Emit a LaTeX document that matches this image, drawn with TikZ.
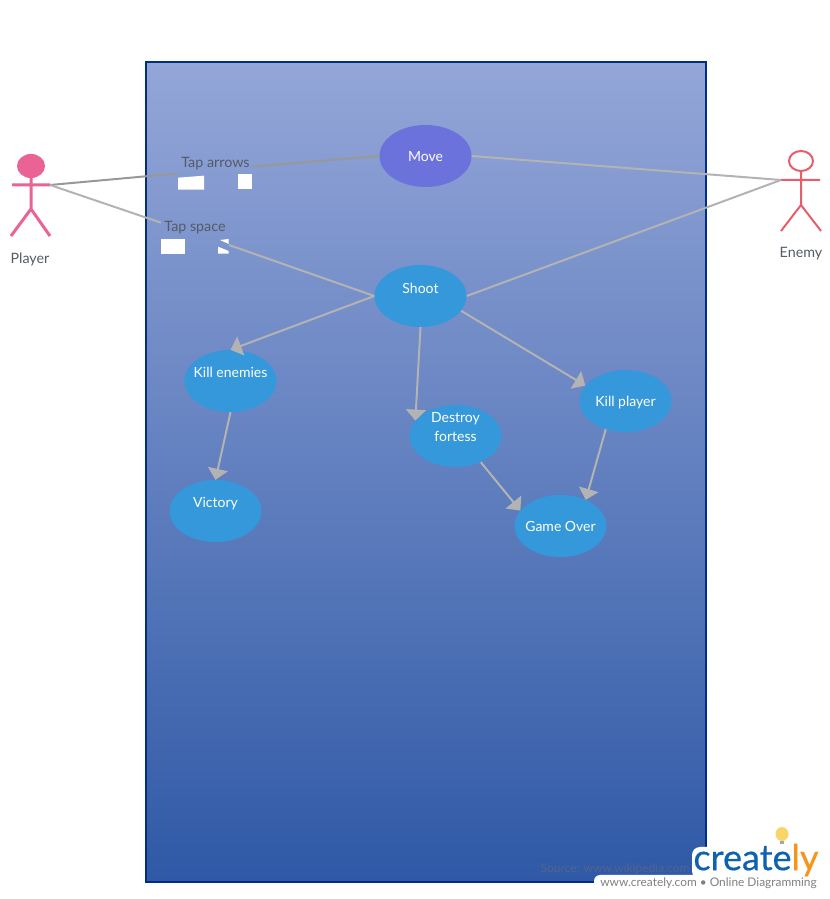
\documentclass[tikz,border=0pt]{standalone}
\usepackage{fontspec}
\setmainfont{Lato}
\newfontfamily\logofont[FakeBold=0.5]{Lato}
\usetikzlibrary{arrows.meta}
\usetikzlibrary{shapes.geometric}
\definecolor{framecol}{HTML}{002D86}
\definecolor{toptone}{HTML}{94A6D8}
\definecolor{lowtone}{HTML}{2F59A6}
\definecolor{casecol}{HTML}{3498DB}
\definecolor{movecol}{HTML}{6C72DC}
\definecolor{linkcol}{HTML}{B3B3B3}
\definecolor{darklink}{HTML}{989898}
\definecolor{playercol}{HTML}{EA6395}
\definecolor{enemycol}{HTML}{E85D6C}
\definecolor{labelcol}{HTML}{555B66}
\definecolor{sourcecol}{HTML}{52648F}
\definecolor{bulbcol}{HTML}{F8D568}
\tikzset{
  usecase/.style={shape=ellipse,fill=casecol,inner sep=0pt,minimum width=92bp,minimum height=62bp},
  casetext/.style={text=white,font=\fontsize{14bp}{19bp}\selectfont,inner sep=0pt,align=center},
  link/.style={draw=linkcol,line width=2bp},
  flow/.style={link,-{Triangle[length=11bp,width=20bp]}},
  tag/.style={text=labelcol,font=\fontsize{14.3bp}{17bp}\selectfont,inner sep=1bp},
  patch/.style={fill=white,draw=none},
}
\begin{document}
\begin{tikzpicture}[x=1bp,y=1bp,line join=bevel]
\useasboundingbox (0,0) rectangle (830,899);
%% frame
\node (frame) at (426,427) [draw=framecol,line width=2bp,line join=miter,top color=toptone,bottom color=lowtone,minimum width=559bp,minimum height=819bp,inner sep=0pt] {};
%% actors
\coordinate (player_hand) at (50,714);
\coordinate (enemy_hand) at (781,719);
\node (player_head) at (31,733) [shape=ellipse,fill=playercol,inner sep=0pt,minimum width=28bp,minimum height=24bp] {};
\draw [playercol,line width=3bp] (player_head) -- (31,690) (12,714) -- (player_hand) (11,663) -- (31,690) -- (50,663);
\node (enemy_head) at (801,738) [shape=ellipse,draw=enemycol,line width=2bp,inner sep=0pt,minimum width=24bp,minimum height=20bp] {};
\draw [enemycol,line width=2bp] (enemy_head) -- (801,694) (enemy_hand) -- (820,719) (781,668) -- (801,694) -- (821,668);
\node (player) at (30,640) [tag] {Player};
\node (enemy) at (801,645) [tag] {Enemy};
%% use cases
\node (move) at (425.5,743) [usecase,fill=movecol,label={[casetext,yshift=-1bp]center:Move}] {};
\node (shoot) at (420.5,603) [usecase,label={[casetext,yshift=8bp]center:Shoot}] {};
\node (kill_enemies) at (230.5,518) [usecase,label={[casetext,yshift=9bp]center:Kill enemies}] {};
\node (victory) at (215.5,388) [usecase,label={[casetext,yshift=7bp]center:Victory}] {};
\node (destroy) at (455.5,463) [usecase,label={[casetext,yshift=9bp]center:Destroy\\fortess}] {};
\node (kill_player) at (625.5,498) [usecase,label={[casetext,yshift=-2bp]center:Kill player}] {};
\node (game_over) at (560.5,373) [usecase,label={[casetext]center:Game Over}] {};
%% tags with their patches
\fill [patch] (178,709.3) -- (178,721.3) -- (204,723.3) -- (204,709.3) -- cycle;
\fill [patch] (237.7,709.7) rectangle (252.3,724.7);
\fill [patch] (161.3,645.3) rectangle (184.7,660);
\fill [patch] (220,659) -- (228.7,660) -- (228.7,655) -- cycle;
\fill [patch] (218,652.3) -- (228.7,648) -- (228.7,645.3) -- (218,645.3) -- cycle;
\node (tap_arrows) at (215.5,735) [tag] {Tap arrows};
\node (tap_space) at (195,671) [tag] {Tap space};
\coordinate (arrows_in) at (178,725.6);
\coordinate (arrows_out) at (252,732.3);
\coordinate (space_in) at (161,676.3);
\coordinate (space_out) at (229,654);
%% links
\draw [link,draw=darklink] (player_hand) -- (arrows_in);
\draw [link,draw=darklink] (arrows_out) -- (move.west);
\draw [link] (player_hand) -- (space_in);
\draw [link] (space_out) -- (shoot.west);
\draw [link] (move.east) -- (enemy_hand);
\draw [link] (shoot.east) -- (enemy_hand);
\draw [flow] (shoot.west) -- (kill_enemies.north);
\draw [flow] (shoot.south) -- (destroy.159);
\draw [flow] (shoot.-20) -- (kill_player.159);
\draw [flow] (kill_enemies.south) -- (victory.north);
\draw [flow] (destroy.-46) -- (game_over.159);
\draw [flow] (kill_player.-125) -- (game_over.46);
%% logo
\node (source) at (615,30) [text=sourcecol,font=\fontsize{12bp}{14bp}\selectfont,inner sep=0pt] {Source: www.wikipedia.com};
\fill [white,rounded corners=6bp] (594,-6) rectangle (840,24);
\fill [white,rounded corners=8bp] (692,20) rectangle (740,52);
\fill [white] (706.9,30) rectangle (830,60);
\node (logo) at (756,39) [inner sep=0pt,font=\fontsize{36bp}{36bp}\logofont] {\textcolor[HTML]{0F62B0}{create}\textcolor[HTML]{F7941E}{ly}};
\node (bulb) at (782,65) [shape=ellipse,fill=bulbcol,inner sep=0pt,minimum width=13bp,minimum height=14bp] {};
\draw [gray!70,line width=4bp] (bulb.south) -- ++(0,-3);
\node (tagline) at (708.5,16) [text=gray,font=\fontsize{11.9bp}{14bp}\selectfont,inner sep=0pt] {www.creately.com • Online Diagramming};
\end{tikzpicture}
\end{document}
